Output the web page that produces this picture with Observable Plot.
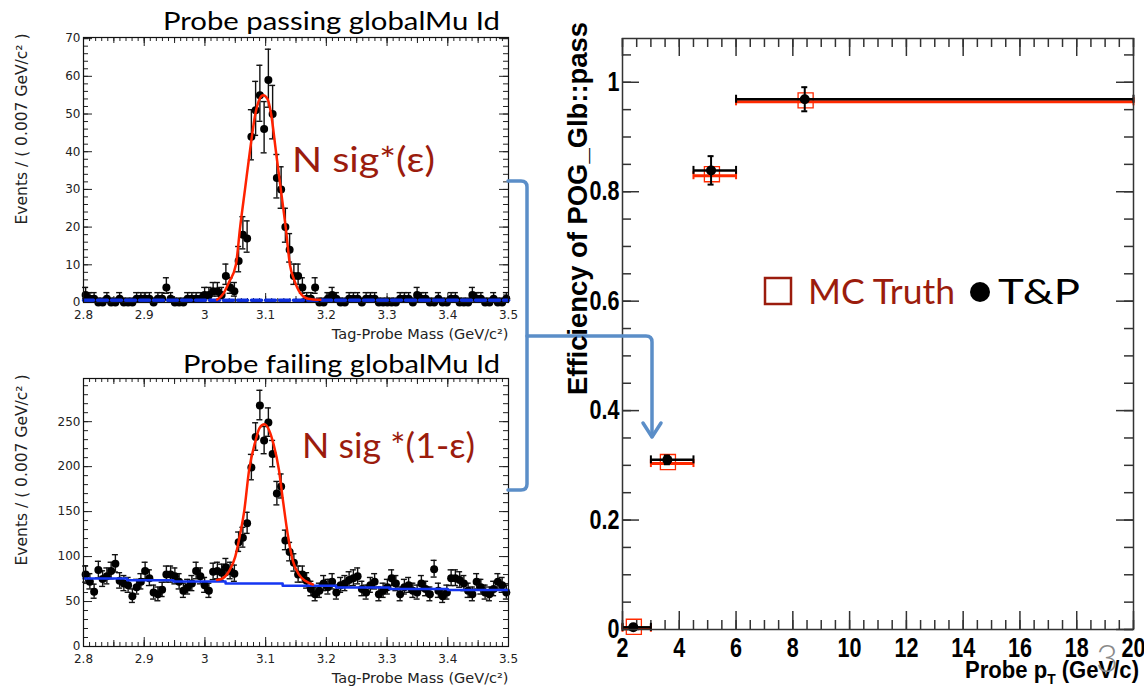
<!DOCTYPE html>
<html><head><meta charset="utf-8">
<script src="https://cdn.jsdelivr.net/npm/d3@7"></script>
<script src="https://cdn.jsdelivr.net/npm/@observablehq/plot@0.6"></script>
<style>
html,body{margin:0;padding:0;background:#fff}
body{width:1144px;height:688px;overflow:hidden;position:relative}
.panel{position:absolute}
#overlay{position:absolute;left:0;top:0;pointer-events:none}
</style></head><body>
<div id="pPass" class="panel" style="left:0;top:0"></div>
<div id="pFail" class="panel" style="left:0;top:343px"></div>
<div id="pEff" class="panel" style="left:560px;top:0"></div>
<svg id="overlay" width="1144" height="688" xmlns="http://www.w3.org/2000/svg">
  <g font-family="Lato, 'Open Sans', sans-serif">
    <text x="163" y="30" font-size="25" textLength="337" lengthAdjust="spacingAndGlyphs" fill="#000">Probe passing globalMu Id</text>
    <text x="183" y="373" font-size="25" textLength="317" lengthAdjust="spacingAndGlyphs" fill="#000">Probe failing globalMu Id</text>
    <text x="292" y="172" font-size="35" textLength="143" lengthAdjust="spacingAndGlyphs" fill="#9b1c0d">N sig*(ε)</text>
    <text x="302" y="458" font-size="35" textLength="173" lengthAdjust="spacingAndGlyphs" fill="#9b1c0d">N sig *(1-ε)</text>
  </g>
  <g fill="none" stroke="#5b8ec8" stroke-width="3.5" stroke-linecap="round" stroke-linejoin="round">
    <path d="M508,181 L521,181 Q527,181 527,187 L527,484 Q527,490 521,490 L508,490"/>
    <path d="M527,336 L646,336 Q652,336 652,342 L652,436"/>
    <path d="M643,423 L652,437 L661,423"/>
  </g>
  <g font-family="Liberation Sans, Arial, sans-serif" font-weight="bold" fill="#000">
    <text transform="translate(587,395) rotate(-90)" font-size="27" textLength="373" lengthAdjust="spacingAndGlyphs">Efficiency of POG_Glb::pass</text>
    <text x="965" y="678" font-size="24" textLength="174" lengthAdjust="spacingAndGlyphs">Probe p<tspan font-size="15" dy="6">T</tspan><tspan dy="-6"> (GeV/c)</tspan></text>
  </g>
  <g font-family="Lato, 'Open Sans', sans-serif">
    <rect x="765" y="278" width="26" height="26" fill="none" stroke="#9b1c0d" stroke-width="2.5"/>
    <text x="808" y="304" font-size="35" textLength="147" lengthAdjust="spacingAndGlyphs" fill="#9b1c0d">MC Truth</text>
    <circle cx="980" cy="292" r="10" fill="#000"/>
    <text x="998" y="304" font-size="35" textLength="82" lengthAdjust="spacingAndGlyphs" fill="#000">T&amp;P</text>
    <text x="1096" y="672" font-size="38" font-weight="300" fill="#8a8a8a">3</text>
  </g>
</svg>
<script>
// ---------------- data ----------------
const massTickLabels = [2.8, 2.9, 3.0, 3.1, 3.2, 3.3, 3.4, 3.5];
const passYTickLabels = [0, 10, 20, 30, 40, 50, 60, 70];
const failYTickLabels = [0, 50, 100, 150, 200, 250];
const ptTickLabels = [2, 4, 6, 8, 10, 12, 14, 16, 18, 20];
const effTickLabels = [0, 0.2, 0.4, 0.6, 0.8, 1];

// events per 0.007 GeV bin, 2.8 - 3.5 GeV (100 bins)
const passCounts = [
  2, 1, 1, 0, 0, 1, 0, 0, 1, 0,
  0, 0, 1, 1, 1, 1, 0, 1, 1, 4,
  1, 0, 0, 0, 1, 1, 1, 1, 2, 2,
  3, 3, 2, 7, 4, 3, 11, 18, 17, 44,
  51, 55, 46, 59, 50, 33, 30, 20, 14, 7,
  7, 4, 1, 1, 4, 0, 0, 1, 2, 1,
  0, 0, 1, 1, 1, 0, 1, 1, 1, 0,
  0, 0, 0, 0, 1, 1, 1, 0, 2, 1,
  1, 0, 0, 1, 0, 0, 1, 1, 0, 0,
  0, 2, 1, 1, 0, 0, 1, 0, 0, 1];
const failCounts = [
  80, 72, 61, 85, 75, 78, 84, 92, 73, 70,
  68, 56, 66, 72, 84, 76, 60, 58, 63, 80,
  80, 78, 72, 62, 66, 70, 84, 78, 68, 62,
  83, 84, 82, 88, 84, 81, 116, 121, 137, 199,
  233, 268, 229, 249, 214, 170, 178, 118, 105, 93,
  80, 80, 73, 64, 58, 62, 70, 66, 72, 60,
  68, 70, 74, 76, 78, 64, 60, 68, 72, 58,
  62, 66, 76, 70, 58, 66, 68, 62, 60, 70,
  64, 58, 86, 62, 56, 60, 76, 76, 74, 70,
  62, 58, 72, 66, 60, 58, 64, 72, 68, 60];

// fit curves
const passFitMass = [3.020, 3.031, 3.040, 3.051, 3.058, 3.066, 3.074, 3.083, 3.090, 3.096, 3.103, 3.109, 3.117, 3.125, 3.133, 3.140, 3.147, 3.157, 3.170, 3.190];
const passFitVal  = [0.7, 2.5, 5.5, 10, 20, 30, 40, 50, 54, 55, 54, 50, 40, 30, 20, 10, 6, 2.5, 1.0, 0.7];
const passBkgMass = [2.8, 3.5];
const passBkgVal  = [0.6, 0.6];
const failFitMass = [3.020, 3.030, 3.040, 3.050, 3.058, 3.065, 3.0725, 3.083, 3.090, 3.098, 3.106, 3.113, 3.122, 3.129, 3.137, 3.145, 3.155, 3.165, 3.178];
const failFitVal  = [74, 76, 84, 100, 125, 152, 195, 228, 243, 247, 240, 225, 196, 160, 122, 95, 80, 73, 69];
const failBkgMass = [2.8, 2.872, 2.948, 3.034, 3.128, 3.216, 3.304, 3.40, 3.5];
const failBkgVal  = [75.7, 73.8, 72.3, 70.1, 67.5, 65.7, 63.8, 62.7, 62.7];

// efficiency vs probe pT
const ptBinLow  = [2, 3, 4.5, 6];
const ptBinHigh = [3, 4.5, 6, 20];
const ptMeanTP  = [2.38, 3.58, 5.12, 8.42];
const effTP     = [0.004, 0.310, 0.839, 0.969];
const effTPErr  = [0.005, 0.008, 0.026, 0.022];
const ptMeanMC  = [2.40, 3.60, 5.15, 8.45];
const effMC     = [0.005, 0.306, 0.832, 0.967];

// ---------------- helpers ----------------
const binCenters = d3.range(100).map(i => 2.8 + 0.007 * (i + 0.5));
function poisson(n) {
  if (n === 0) return [0, 1.15];
  const s = Math.sqrt(n + 0.25);
  return [s - 0.5, s + 0.5];
}
function ticksX(vals, len, fh, o) {
  return [Plot.tickX(vals, {x: d => d, insetTop: fh - len, ...o}),
          Plot.tickX(vals, {x: d => d, insetBottom: fh - len, ...o})];
}
function ticksY(vals, len, fw, o) {
  return [Plot.tickY(vals, {y: d => d, insetRight: fw - len, ...o}),
          Plot.tickY(vals, {y: d => d, insetLeft: fw - len, ...o})];
}
const zip = (xs, ys) => xs.map((x, i) => ({x, y: ys[i]}));

function massPanel(counts, fitM, fitV, bkgM, bkgV, yMax, yTicks, yMinorStep, dashed, H, mt, mb) {
  const W = 520, ml = 83, mr = 12;
  const fw = W - ml - mr, fh = H - mt - mb;
  const pts = counts.map((n, i) => { const e = poisson(n); return {m: binCenters[i], n, lo: n - e[0], hi: n + e[1]}; });
  const xMinor = d3.range(0, 71).map(i => 2.8 + i * 0.01);
  const xMid = d3.range(0, 15).map(i => 2.8 + i * 0.05);
  const yMinor = d3.range(0, yMax, yMinorStep);
  const tk = {stroke: "#222", strokeWidth: 1};
  const font = {fontFamily: "DejaVu Sans, Liberation Sans, sans-serif", fontSize: 12, fill: "#222"};
  return Plot.plot({
    width: W, height: H, marginLeft: ml, marginRight: mr, marginTop: mt, marginBottom: mb,
    x: {domain: [2.8, 3.5]},
    y: {domain: [0, yMax]},
    style: {background: "white", overflow: "hidden"},
    marks: [
      ...ticksX(xMinor, 4, fh, tk),
      ...ticksX(xMid, 6, fh, tk),
      ...ticksX(massTickLabels, 9, fh, tk),
      ...ticksY(yMinor, 5, fw, tk),
      ...ticksY(yTicks, 9, fw, tk),
      Plot.axisX({ticks: massTickLabels, tickSize: 0, tickPadding: 8, tickFormat: d3.format("~g"), ...font}),
      Plot.axisY({ticks: yTicks, tickSize: 0, tickPadding: 3, tickFormat: d3.format("~g"), ...font}),
      Plot.text(["Tag-Probe Mass (GeV/c²)"], {text: d => d, frameAnchor: "bottom-right", textAnchor: "end", lineAnchor: "middle", dy: 32, fontFamily: font.fontFamily, fontSize: 14.5, fill: "#222"}),
      Plot.text(["Events / ( 0.007 GeV/c² )"], {text: d => d, frameAnchor: "top-left", rotate: -90, textAnchor: "end", lineAnchor: "middle", dx: -61, dy: -4, fontFamily: font.fontFamily, fontSize: 15.5, fill: "#222"}),
      Plot.ruleX(pts, {x: "m", y1: "lo", y2: "hi", stroke: "#111", strokeWidth: 1.4}),
      Plot.ruleY(pts, {y: "hi", x1: "m", x2: "m", insetLeft: -3, insetRight: -3, stroke: "#111", strokeWidth: 1.4}),
      Plot.ruleY(pts.filter(d => d.n > 0), {y: "lo", x1: "m", x2: "m", insetLeft: -3, insetRight: -3, stroke: "#111", strokeWidth: 1.4}),
      Plot.dot(pts, {x: "m", y: "n", r: 4, fill: "#000"}),
      Plot.line(zip(bkgM, bkgV), {x: "x", y: "y", curve: dashed ? "linear" : "step-after", stroke: dashed ? "#0d2fe0" : "#1536f2", strokeWidth: dashed ? 3.5 : 2.5, strokeDasharray: dashed ? "10,4" : null}),
      Plot.line(zip(fitM, fitV), {x: "x", y: "y", curve: "monotone-x", stroke: "#ff2200", strokeWidth: 2.5}),
      Plot.frame({stroke: "#111", strokeWidth: 1.2})
    ]
  });
}

document.getElementById("pPass").append(
  massPanel(passCounts, passFitMass, passFitVal, passBkgMass, passBkgVal, 70.3, passYTickLabels, 2, true, 343, 37, 41));
document.getElementById("pFail").append(
  massPanel(failCounts, failFitMass, failFitVal, failBkgMass, failBkgVal, 298, failYTickLabels, 10, false, 345, 35, 42));

// efficiency panel
(function () {
  const W = 584, H = 688, ml = 62, mr = 11, mt = 38, mb = 59;
  const fw = W - ml - mr, fh = H - mt - mb;
  const bins = ptBinLow.map((lo, i) => ({lo, hi: ptBinHigh[i], xt: ptMeanTP[i], e: effTP[i], err: effTPErr[i], xm: ptMeanMC[i], mc: effMC[i]}));
  const xMinor = d3.range(0, 37).map(i => 2 + i * 0.5);
  const yMinor = d3.range(0, 22).map(i => i * 0.05);
  const tk = {stroke: "#333", strokeWidth: 1.5};
  const font = {fontFamily: "Liberation Sans, Arial, sans-serif", fontWeight: "bold", fontSize: 27, fill: "#000"};
  const red = "#ff2a00";
  const plot = Plot.plot({
    width: W, height: H, marginLeft: ml, marginRight: mr, marginTop: mt, marginBottom: mb,
    x: {domain: [2, 20]},
    y: {domain: [0, 1.08]},
    style: {background: "white", overflow: "visible"},
    marks: [
      ...ticksX(xMinor, 9, fh, tk),
      ...ticksX(ptTickLabels, 18, fh, tk),
      ...ticksY(yMinor, 9, fw, tk),
      ...ticksY(effTickLabels, 17, fw, tk),
      Plot.axisX({ticks: ptTickLabels, tickSize: 0, tickPadding: 8, tickFormat: d3.format("~g"), ...font}),
      Plot.axisY({ticks: effTickLabels, tickSize: 0, tickPadding: 3, tickFormat: d3.format("~g"), ...font}),
      // MC truth
      Plot.ruleY(bins, {y: "mc", x1: "lo", x2: "hi", stroke: red, strokeWidth: 3, dy: 1.5}),
      Plot.ruleX(bins, {x: "lo", y1: "mc", y2: "mc", insetTop: -4, insetBottom: -4, stroke: red, strokeWidth: 2, dy: 1.5}),
      Plot.ruleX(bins, {x: "hi", y1: "mc", y2: "mc", insetTop: -4, insetBottom: -4, stroke: red, strokeWidth: 2, dy: 1.5}),
      Plot.dot(bins, {x: "xm", y: "mc", symbol: "square", r: 8.5, stroke: red, fill: "none", strokeWidth: 1.3}),
      // Tag & probe
      Plot.ruleY(bins, {y: "e", x1: "lo", x2: "hi", stroke: "#000", strokeWidth: 2.5}),
      Plot.ruleX(bins, {x: "lo", y1: "e", y2: "e", insetTop: -4, insetBottom: -4, stroke: "#000", strokeWidth: 2}),
      Plot.ruleX(bins, {x: "hi", y1: "e", y2: "e", insetTop: -4, insetBottom: -4, stroke: "#000", strokeWidth: 2}),
      Plot.ruleX(bins, {x: "xt", y1: d => d.e - d.err, y2: d => d.e + d.err, stroke: "#000", strokeWidth: 2}),
      Plot.ruleY(bins, {y: d => d.e + d.err, x1: "xt", x2: "xt", insetLeft: -3, insetRight: -3, stroke: "#000", strokeWidth: 2}),
      Plot.ruleY(bins, {y: d => d.e - d.err, x1: "xt", x2: "xt", insetLeft: -3, insetRight: -3, stroke: "#000", strokeWidth: 2}),
      Plot.dot(bins, {x: "xt", y: "e", r: 5, fill: "#000"}),
      Plot.frame({stroke: "#333", strokeWidth: 1.5})
    ]
  });
  document.getElementById("pEff").append(plot);
  // condense the bold tick labels like the original's narrow font
  plot.querySelectorAll("text").forEach(t => {
    const w = t.getComputedTextLength();
    if (w > 0) { t.setAttribute("textLength", (w * 0.8).toFixed(1)); t.setAttribute("lengthAdjust", "spacingAndGlyphs"); }
  });
})();
</script>
</body></html>
